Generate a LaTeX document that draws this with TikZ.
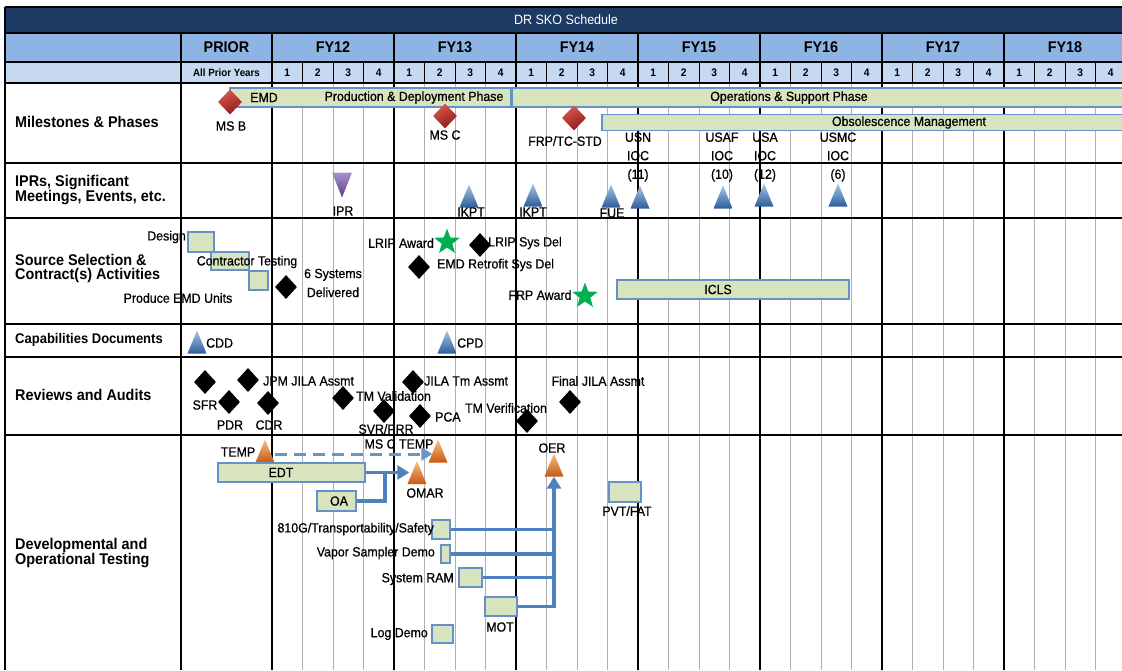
\documentclass[tikz,border=0pt]{standalone}
\usepackage{fontspec}
\setmainfont[FakeStretch=0.93]{Liberation Sans}
\newfontfamily\labelface[FakeStretch=0.93,FakeBold=0.7]{Liberation Sans}
\usetikzlibrary{shapes.geometric,arrows.meta}

\definecolor{titlenavy}{HTML}{1C3A64}
\definecolor{fyblue}{HTML}{8DB4E2}
\definecolor{qtrblue}{HTML}{C6D9F1}
\definecolor{barfill}{HTML}{D7E4BD}
\definecolor{barline}{HTML}{6690C8}
\definecolor{connblue}{HTML}{4F81BD}
\definecolor{qtrgray}{HTML}{B0B0B0}
\definecolor{stargreen}{HTML}{00B050}
\definecolor{redlight}{HTML}{D9574E}
\definecolor{reddark}{HTML}{8A1D18}
\definecolor{bluelight}{HTML}{A4C6EA}
\definecolor{bluedark}{HTML}{2E5C9A}
\definecolor{orangelight}{HTML}{F9BE84}
\definecolor{orangedark}{HTML}{C65911}
\definecolor{purplelight}{HTML}{A891CC}
\definecolor{purpledark}{HTML}{5A3D8A}

\tikzset{
  txt/.style={font=\labelface\fontsize{13.3}{15}\selectfont, inner sep=0pt},
  rowlbl/.style={font=\bfseries\fontsize{15.5}{14}\selectfont, align=left, anchor=west, inner sep=0pt},
  hdr/.style={font=\bfseries\fontsize{15.5}{16}\selectfont, inner sep=0pt},
  qtr/.style={font=\bfseries\fontsize{11}{12}\selectfont, inner sep=0pt},
  fyline/.style={line width=1.4pt, black},
  qline/.style={line width=0.8pt, qtrgray},
  bar/.style={draw=barline, fill=barfill, line width=1.3pt, inner sep=0pt,
    font=\labelface\fontsize{13.3}{15}\selectfont},
  blkdia/.style={diamond, fill=black, minimum width=22pt, minimum height=24pt, inner sep=0pt},
  reddia/.style={diamond, minimum width=24pt, minimum height=25pt, inner sep=0pt,
    top color=redlight, bottom color=reddark, shading angle=25},
  greenstar/.style={star, star points=5, star point ratio=2.4, minimum size=27pt,
    inner sep=0pt, fill=stargreen},
  tri/.style 2 args={minimum width=19pt, minimum height=23pt, inner sep=0pt,
    path picture={\shade[top color=#1, bottom color=#2]
      (path picture bounding box.south west) -- (path picture bounding box.south east)
      -- (path picture bounding box.north) -- cycle;}},
  tridown/.style 2 args={minimum width=20pt, minimum height=25pt, inner sep=0pt,
    path picture={\shade[top color=#1, bottom color=#2]
      (path picture bounding box.north west) -- (path picture bounding box.north east)
      -- (path picture bounding box.south) -- cycle;}},
  triblue/.style={tri={bluelight}{bluedark}},
  triorange/.style={tri={orangelight}{orangedark}},
  tripurple/.style={tridown={purplelight}{purpledark}},
  conn/.style={draw=connblue, line width=3.2pt, line join=miter},
  connarr/.style={conn, -{Triangle[width=14pt,length=12pt]}},
  dasharr/.style={draw=connblue!85!white, line width=3pt, dash pattern=on 12pt off 7pt,
    -{Triangle[width=13pt,length=11pt]}},
}

\begin{document}
\begin{tikzpicture}[x=1pt,y=-1pt]
\useasboundingbox (0,0) rectangle (1122,670);
\clip (0,0) rectangle (1122,670);

% ---- header bands ----
\fill[titlenavy] (5,7) rectangle (1130,33);
\fill[fyblue] (5,33) rectangle (1130,62);
\fill[qtrblue] (5,62) rectangle (1130,83);

% ---- quarter grid ----
\foreach \k in {1,2,3,5,6,7,9,10,11,13,14,15,17,18,19,21,22,23,25,26,27}{
  \draw[qline] (272+30.5*\k,83) -- (272+30.5*\k,670);
  \draw[line width=0.9pt] (272+30.5*\k,62) -- (272+30.5*\k,83);
}
% ---- fiscal year and row rules ----
\foreach \xx in {181,272,394,516,638,760,882,1004}
  \draw[fyline] (\xx,33) -- (\xx,670);
\foreach \yy in {33,62,83,163,218,324,357,435}
  \draw[fyline] (5,\yy) -- (1130,\yy);
\draw[fyline] (5,7) -- (5,670);
\draw[fyline] (5,7) -- (1130,7);

% ---- header text ----
\node[font=\fontsize{13.5}{15}\selectfont, text=white, inner sep=0pt] (title) at (566,20) {DR SKO Schedule};
\node[hdr] (hprior) at (226.5,47.5) {PRIOR};
\foreach \lab [count=\j from 0] in {FY12,FY13,FY14,FY15,FY16,FY17,FY18}
  \node[hdr] (fy\j) at (333+122*\j,47.5) {\lab};
\node[qtr, font=\bfseries\fontsize{10.5}{12}\selectfont] (allprior) at (226.5,72.5) {All Prior Years};
\foreach \k in {0,...,27}{
  \pgfmathtruncatemacro\qd{mod(\k,4)+1}
  \node[qtr] (qn\k) at (287.25+30.5*\k,72.5) {\qd};
}

% ---- row labels ----
\node[rowlbl] (rmile) at (15,122) {Milestones \& Phases};
\node[rowlbl] (ripr) at (15,190) {IPRs, Significant\\Meetings, Events, etc.};
\node[rowlbl] (rsrc) at (15,268) {Source Selection \&\\Contract(s) Activities};
\node[rowlbl, font=\bfseries\fontsize{14}{14}\selectfont] (rcap) at (15,340) {Capabilities Documents};
\node[rowlbl] (rrev) at (15,395) {Reviews and Audits};
\node[rowlbl] (rdev) at (15,553) {Developmental and\\Operational Testing};

% ---- milestones & phases ----
\node[bar, minimum width=281pt, minimum height=19pt] (emdbar) at (370.5,97.5) {};
\node[txt] (emdlbl) at (264,97.5) {EMD};
\node[txt] (pdlbl) at (414,97.5) {Production \& Deployment Phase};
\node[bar, minimum width=618pt, minimum height=19pt] (opsbar) at (821,97.5) {};
\node[txt] (opslbl) at (789,97.5) {Operations \& Support Phase};
\node[bar, minimum width=528pt, minimum height=16pt] (obsbar) at (866,122.5) {};
\node[txt] (obslbl) at (909,122.5) {Obsolescence Management};

\node[reddia] (msb) at (230,102) {};
\node[txt] (msblbl) at (231,126) {MS B};
\node[reddia] (msc) at (445,116) {};
\node[txt] (msclbl) at (445,135) {MS C};
\node[reddia] (frp) at (574,118) {};
\node[txt] (frplbl) at (565,141) {FRP/TC-STD};

\node[txt, align=center, font=\labelface\fontsize{13.3}{18.5}\selectfont] (usnlbl) at (638,157) {USN\\IOC\\(11)};
\node[txt, align=center, font=\labelface\fontsize{13.3}{18.5}\selectfont] (usaflbl) at (722,157) {USAF\\IOC\\(10)};
\node[txt, align=center, font=\labelface\fontsize{13.3}{18.5}\selectfont] (usalbl) at (765,157) {USA\\IOC\\(12)};
\node[txt, align=center, font=\labelface\fontsize{13.3}{18.5}\selectfont] (usmclbl) at (838,157) {USMC\\IOC\\(6)};

% ---- IPRs, meetings, events ----
\node[tripurple] (ipr) at (342,185) {};
\node[txt] (iprlbl) at (343,211) {IPR};
\node[triblue] (ikpta) at (469,196) {};
\node[txt] (ikptalbl) at (471,212) {IKPT};
\node[triblue] (ikptb) at (533,195) {};
\node[txt] (ikptblbl) at (533,212) {IKPT};
\node[triblue] (fue) at (611,196) {};
\node[txt] (fuelbl) at (612,213) {FUE};
\node[triblue] (usnioc) at (640,197) {};
\node[triblue] (usafioc) at (723,197) {};
\node[triblue] (usaioc) at (764,195) {};
\node[triblue] (usmcioc) at (838,195) {};

% ---- source selection & contract activities ----
\node[txt, anchor=east] (designlbl) at (186,237) {Design};
\node[bar, minimum width=26pt, minimum height=20pt] (design) at (201,242) {};
\node[bar, minimum width=38pt, minimum height=18pt] (contest) at (230,261) {};
\node[txt] (contestlbl) at (247,262) {Contractor Testing};
\node[bar, minimum width=19pt, minimum height=19pt] (emdunits) at (258.5,280.5) {};
\node[txt] (emdunitslbl) at (178,298) {Produce EMD Units};
\node[blkdia] (sixsys) at (286,287) {};
\node[txt, align=center, font=\labelface\fontsize{13.3}{19}\selectfont] (sixsyslbl) at (333,283) {6 Systems\\Delivered};
\node[txt] (lripawlbl) at (401,243) {LRIP Award};
\node[greenstar] (lripaw) at (447,242) {};
\node[blkdia] (lripsd) at (480,245) {};
\node[txt, anchor=west] (lripsdlbl) at (488,243) {LRIP Sys Del};
\node[blkdia] (emdretro) at (419,267) {};
\node[txt, anchor=west] (emdretrolbl) at (437,265) {EMD Retrofit Sys Del};
\node[txt] (frpawlbl) at (540,295) {FRP Award};
\node[greenstar] (frpaw) at (585,296) {};
\node[bar, minimum width=232pt, minimum height=19pt] (icls) at (733,289.5) {};
\node[txt] (iclslbl) at (718,289.5) {ICLS};

% ---- capabilities documents ----
\node[triblue] (cdd) at (197,342) {};
\node[txt, anchor=west] (cddlbl) at (206,343) {CDD};
\node[triblue] (cpd) at (447,342) {};
\node[txt, anchor=west] (cpdlbl) at (457,343) {CPD};

% ---- reviews and audits ----
\node[blkdia] (sfr) at (205,382) {};
\node[txt] (sfrlbl) at (205,405) {SFR};
\node[blkdia] (pdr) at (229,402) {};
\node[txt] (pdrlbl) at (230,425) {PDR};
\node[blkdia] (jpm) at (248,380) {};
\node[txt, anchor=west] (jpmlbl) at (263,381) {JPM JILA Assmt};
\node[blkdia] (cdr) at (268,403) {};
\node[txt] (cdrlbl) at (269,425) {CDR};
\node[blkdia] (tmval) at (343,398) {};
\node[txt, anchor=west] (tmvallbl) at (356,396) {TM Validation};
\node[blkdia] (svr) at (384,411) {};
\node[txt] (svrlbl) at (386,429) {SVR/PRR};
\node[blkdia] (jilatm) at (413,382) {};
\node[txt, anchor=west] (jilatmlbl) at (424,381) {JILA Tm Assmt};
\node[blkdia] (pca) at (420,416) {};
\node[txt, anchor=west] (pcalbl) at (435,417) {PCA};
\node[txt] (tmverlbl) at (506,408) {TM Verification};
\node[blkdia] (tmver) at (527,421) {};
\node[blkdia] (finaljila) at (570,402) {};
\node[txt] (finaljilalbl) at (598,381) {Final JILA Assmt};

% ---- developmental and operational testing ----
\node[triorange] (temp) at (265,451) {};
\node[txt] (templbl) at (238,452) {TEMP};
\node[triorange] (msctemp) at (438,451) {};
\node[txt] (msctemplbl) at (399,444) {MS C TEMP};
\node[bar, minimum width=147pt, minimum height=19pt] (edt) at (291.5,472.5) {};
\node[txt] (edtlbl) at (281,472.5) {EDT};
\node[bar, minimum width=39pt, minimum height=20pt] (oa) at (336.5,501) {};
\node[txt] (oalbl) at (339,501) {OA};
\node[triorange] (omar) at (417,472.5) {};
\node[txt] (omarlbl) at (425,493) {OMAR};
\node[triorange] (oer) at (554,465) {};
\node[txt] (oerlbl) at (552,448) {OER};
\node[bar, minimum width=18pt, minimum height=19pt] (gtest) at (441,529.5) {};
\node[txt, anchor=east] (gtestlbl) at (434,529) {810G/Transportability/Safety};
\node[bar, minimum width=9pt, minimum height=18pt] (vapor) at (445.5,554) {};
\node[txt, anchor=east] (vaporlbl) at (435,553) {Vapor Sampler Demo};
\node[bar, minimum width=23pt, minimum height=19pt] (sysram) at (470.5,577.5) {};
\node[txt, anchor=east] (sysramlbl) at (454,579) {System RAM};
\node[bar, minimum width=32pt, minimum height=19pt] (mot) at (501,606.5) {};
\node[txt] (motlbl) at (500,627) {MOT};
\node[bar, minimum width=21pt, minimum height=18pt] (logdemo) at (442.5,634) {};
\node[txt, anchor=east] (logdemolbl) at (428,634) {Log Demo};
\node[bar, minimum width=32pt, minimum height=20pt] (pvt) at (625,492) {};
\node[txt] (pvtlbl) at (627,511) {PVT/FAT};

% connectors
\draw[dasharr] ([yshift=-3pt]temp.east) -- ([xshift=4pt,yshift=-3pt]msctemp.west);
\draw[connarr] (edt.east) -- ([xshift=2pt]edt.east -| omar.west);
\coordinate (oajoin) at (385,472.5);
\draw[conn] (oa.east) -| (oajoin);
\draw[conn] (gtest.east) -- (gtest.east -| oer.south);
\draw[conn] (vapor.east) -- (vapor.east -| oer.south);
\draw[conn] (sysram.east) -- (sysram.east -| oer.south);
\draw[connarr] (mot.east) -| (oer.south);

\end{tikzpicture}
\end{document}
